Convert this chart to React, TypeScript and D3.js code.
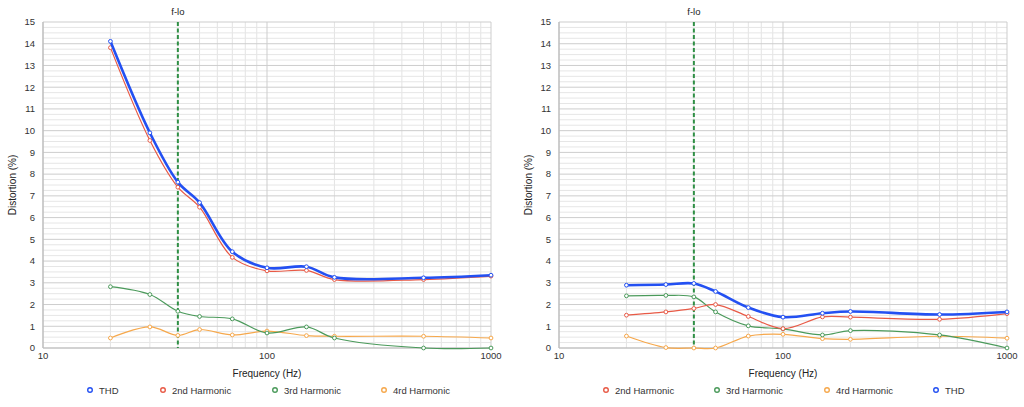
import { useEffect, useRef } from 'react';
import * as d3 from 'd3';

// Measured frequencies (Hz)
const freqs = [20, 30, 40, 50, 70, 100, 150, 200, 500, 1000];

// Left panel
const leftTHD = [14.11, 9.9, 7.63, 6.69, 4.43, 3.69, 3.74, 3.25, 3.23, 3.35];
const left2nd = [13.82, 9.55, 7.4, 6.48, 4.17, 3.55, 3.57, 3.15, 3.15, 3.31];
const left3rd = [2.82, 2.46, 1.69, 1.45, 1.34, 0.69, 0.97, 0.46, 0.0, 0.0];
const left4th = [0.46, 0.97, 0.58, 0.85, 0.6, 0.78, 0.57, 0.54, 0.54, 0.46];

// Right panel
const rightTHD = [2.89, 2.92, 2.97, 2.6, 1.86, 1.42, 1.6, 1.68, 1.54, 1.66];
const right2nd = [1.51, 1.66, 1.82, 2.0, 1.45, 0.89, 1.43, 1.42, 1.32, 1.58];
const right3rd = [2.4, 2.42, 2.35, 1.66, 1.02, 0.88, 0.6, 0.8, 0.6, 0.0];
const right4th = [0.55, 0.02, 0.0, 0.0, 0.55, 0.63, 0.43, 0.4, 0.54, 0.45];

const xTicks = [10, 100, 1000];
const yTicks = d3.range(0, 16);
const fLo = 40;

const COLORS = {
  thd: '#2350f2',
  h2: '#e85a46',
  h3: '#4b9a5b',
  h4: '#f6a84c',
};

interface Series {
  name: string;
  values: number[];
  color: string;
  width: number;
}

const leftSeries: Series[] = [
  { name: 'THD', values: leftTHD, color: COLORS.thd, width: 2.6 },
  { name: '2nd Harmonic', values: left2nd, color: COLORS.h2, width: 1.2 },
  { name: '3rd Harmonic', values: left3rd, color: COLORS.h3, width: 1.2 },
  { name: '4rd Harmonic', values: left4th, color: COLORS.h4, width: 1.2 },
];

const rightSeries: Series[] = [
  { name: '2nd Harmonic', values: right2nd, color: COLORS.h2, width: 1.2 },
  { name: '3rd Harmonic', values: right3rd, color: COLORS.h3, width: 1.2 },
  { name: '4rd Harmonic', values: right4th, color: COLORS.h4, width: 1.2 },
  { name: 'THD', values: rightTHD, color: COLORS.thd, width: 2.6 },
];

const FONT = '"Liberation Sans", Arial, Helvetica, sans-serif';

function drawPanel(
  root: d3.Selection<SVGGElement, unknown, null, undefined>,
  series: Series[],
  legendX: number[],
  drawOrder: number[],
) {
  const left = 43;
  const right = 491;
  const top = 22;
  const bottom = 348;

  const x = d3.scaleLog().domain([10, 1000]).range([left, right]);
  const y = d3.scaleLinear().domain([0, 15]).range([bottom, top]);

  // vertical grid (log minors)
  const minorX: number[] = [];
  for (const dec of [10, 100]) for (let k = 2; k <= 9; k++) minorX.push(dec * k);
  root.append('g').selectAll('line').data(minorX).enter().append('line')
    .attr('x1', d => x(d)).attr('x2', d => x(d))
    .attr('y1', top).attr('y2', bottom)
    .attr('stroke', '#e3e3e3').attr('stroke-width', 1);

  // horizontal minor grid
  const minorY = d3.range(0, 15, 0.25).filter(v => v % 1 !== 0);
  root.append('g').selectAll('line').data(minorY).enter().append('line')
    .attr('x1', left).attr('x2', right)
    .attr('y1', d => y(d)).attr('y2', d => y(d))
    .attr('stroke', '#e6e6e6').attr('stroke-width', 1);

  // major grid
  root.append('g').selectAll('line').data(yTicks).enter().append('line')
    .attr('x1', left).attr('x2', right)
    .attr('y1', d => y(d)).attr('y2', d => y(d))
    .attr('stroke', '#cdcdcd').attr('stroke-width', 1);
  root.append('g').selectAll('line').data(xTicks).enter().append('line')
    .attr('x1', d => x(d)).attr('x2', d => x(d))
    .attr('y1', top).attr('y2', bottom)
    .attr('stroke', '#cdcdcd').attr('stroke-width', 1);

  // axis lines
  root.append('line').attr('x1', left).attr('x2', left).attr('y1', top).attr('y2', bottom)
    .attr('stroke', '#bdbdbd').attr('stroke-width', 1.2);
  root.append('line').attr('x1', left).attr('x2', right).attr('y1', bottom).attr('y2', bottom)
    .attr('stroke', '#bdbdbd').attr('stroke-width', 1.2);

  // tick labels
  root.append('g').selectAll('text').data(yTicks).enter().append('text')
    .attr('x', left - 8).attr('y', d => y(d) + 3.3)
    .attr('text-anchor', 'end')
    .style('font-size', '9.5px').style('fill', '#333')
    .text(d => d);
  root.append('g').selectAll('text').data(xTicks).enter().append('text')
    .attr('x', d => x(d)).attr('y', bottom + 11)
    .attr('text-anchor', 'middle')
    .style('font-size', '9.5px').style('fill', '#333')
    .text(d => d);

  // axis titles
  root.append('text')
    .attr('x', (left + right) / 2).attr('y', 377)
    .attr('text-anchor', 'middle')
    .style('font-size', '10px').style('fill', '#222')
    .text('Frequency (Hz)');
  root.append('text')
    .attr('transform', `translate(16,${(top + bottom) / 2}) rotate(-90)`)
    .attr('text-anchor', 'middle')
    .style('font-size', '10px').style('fill', '#222')
    .text('Distortion (%)');

  // f-lo marker
  root.append('line')
    .attr('x1', x(fLo)).attr('x2', x(fLo)).attr('y1', top).attr('y2', bottom)
    .attr('stroke', '#2f8f45').attr('stroke-width', 2)
    .attr('stroke-dasharray', '4,2.5');
  root.append('text')
    .attr('x', x(fLo)).attr('y', 15)
    .attr('text-anchor', 'middle')
    .style('font-size', '9.5px').style('fill', '#222')
    .text('f-lo');

  const line = d3.line<number>()
    .x((_, i) => x(freqs[i]))
    .y(d => y(d))
    .curve(d3.curveCatmullRom.alpha(0.5));

  drawOrder.forEach(idx => {
    const s = series[idx];
    const g = root.append('g');
    g.append('path')
      .attr('d', line(s.values) || '')
      .attr('fill', 'none')
      .attr('stroke', s.color)
      .attr('stroke-width', s.width);
    g.selectAll('circle').data(s.values).enter().append('circle')
      .attr('cx', (_, i) => x(freqs[i]))
      .attr('cy', d => y(d))
      .attr('r', 1.9)
      .attr('fill', '#fff')
      .attr('stroke', s.color)
      .attr('stroke-width', 1);
  });

  // legend
  series.forEach((s, i) => {
    const lx = legendX[i];
    root.append('circle')
      .attr('cx', lx).attr('cy', 390).attr('r', 2.3)
      .attr('fill', '#fff').attr('stroke', s.color).attr('stroke-width', 1.4);
    root.append('text')
      .attr('x', lx + 9).attr('y', 393.5)
      .style('font-size', '9.5px').style('fill', '#333')
      .text(s.name);
  });
}

export default function App() {
  const svgRef = useRef<SVGSVGElement>(null);

  useEffect(() => {
    if (!svgRef.current) return;
    const svg = d3.select(svgRef.current);
    svg.selectAll('*').remove();
    svg.append('rect').attr('width', 1024).attr('height', 407).attr('fill', '#fff');

    const leftG = svg.append('g');
    drawPanel(leftG, leftSeries, [90, 163, 275, 384], [3, 2, 1, 0]);

    const rightG = svg.append('g').attr('transform', 'translate(516,0)');
    drawPanel(rightG, rightSeries, [90, 201, 311, 420], [2, 1, 0, 3]);
  }, []);

  return (
    <svg
      ref={svgRef}
      width={1024}
      height={407}
      style={{ position: 'absolute', left: 0, top: 0, fontFamily: FONT }}
    />
  );
}
